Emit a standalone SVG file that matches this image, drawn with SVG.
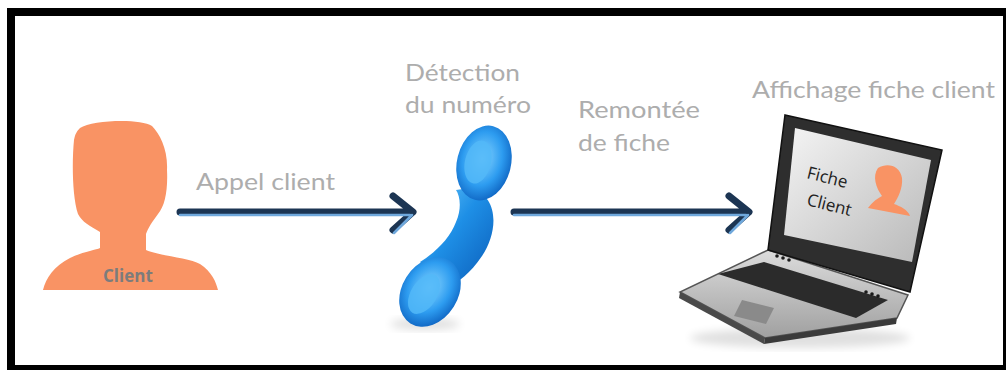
<svg xmlns="http://www.w3.org/2000/svg" width="1006" height="370" viewBox="0 0 1006 370">
  <style>
    .lbl { font-family: Lato, "Open Sans", "Liberation Sans", sans-serif; font-size: 23px; fill: #adadad; }
    .body { fill: #f99364; }
    .arrow-dark { fill: none; stroke: #1c3553; stroke-width: 7; stroke-linecap: round; stroke-linejoin: round; }
    .arrow-light { fill: none; stroke: #6fa8dc; stroke-width: 2.5; stroke-linecap: round; stroke-linejoin: round; }
    .screen-txt { font-family: "Open Sans", "Liberation Sans", sans-serif; font-size: 17px; fill: #222; }
    .dot { fill: #1a1a1a; }
  </style>
  <defs>
    <linearGradient id="phoneGrad" x1="0" y1="0" x2="1" y2="1">
      <stop offset="0" stop-color="#6cc8fb"/>
      <stop offset="0.45" stop-color="#1e8fe6"/>
      <stop offset="1" stop-color="#0b5cb8"/>
    </linearGradient>
    <radialGradient id="earGrad" cx="0.45" cy="0.45" r="0.6">
      <stop offset="0" stop-color="#8ad6ff"/>
      <stop offset="0.6" stop-color="#2d9cf0"/>
      <stop offset="1" stop-color="#0d62c0"/>
    </radialGradient>
    <linearGradient id="screenGrad" x1="0" y1="0" x2="1" y2="1">
      <stop offset="0" stop-color="#f4f4f4"/>
      <stop offset="1" stop-color="#b8b8b8"/>
    </linearGradient>
    <linearGradient id="deckGrad" x1="0" y1="0" x2="0" y2="1">
      <stop offset="0" stop-color="#dcdcdc"/>
      <stop offset="1" stop-color="#a0a0a0"/>
    </linearGradient>
    <filter id="soft" x="-20%" y="-20%" width="140%" height="140%">
      <feGaussianBlur stdDeviation="4"/>
    </filter>
  </defs>

  <!-- frame -->
  <rect x="0" y="0" width="1006" height="370" fill="#ffffff"/>
  <rect x="7" y="8" width="999" height="362" fill="#000000"/>
  <rect x="15" y="16" width="988" height="349" fill="#ffffff"/>

  <!-- client silhouette -->
  <g id="client">
    <path class="body" d="M80,128 C92,120 140,118 152,126 C160,134 168,150 167,170 C168,190 165,206 158,214 C152,222 148,228 146,234 L146,250 C160,256 190,258 200,264 C212,272 216,282 218,290 L43,290 C46,278 54,266 70,258 C82,252 96,250 100,248 L100,232 C90,226 82,222 78,214 C72,196 72,160 74,140 C75,134 77,131 80,128 Z"/>
    <text x="103" y="282" style="font-family: 'Open Sans', 'Liberation Sans', sans-serif; font-size: 17px; font-weight: bold; fill: #7c7c7c;">Client</text>
  </g>

  <!-- connectors -->
  <g id="connectors">
    <path class="arrow-dark" d="M180,212 H412 M393,196 L413,212 L393,230"/>
    <path class="arrow-light" d="M180,215 H410 M394,233 L412,215"/>
    <path class="arrow-dark" d="M514,212 H748 M729,196 L749,212 L729,230"/>
    <path class="arrow-light" d="M514,215 H746 M730,233 L748,215"/>
  </g>

  <!-- labels -->
  <g id="label-appel">
    <text class="lbl" x="196" y="190" textLength="139" lengthAdjust="spacingAndGlyphs">Appel client</text>
  </g>
  <g id="label-detection">
    <text class="lbl" x="405" y="81" textLength="115" lengthAdjust="spacingAndGlyphs">Détection</text>
    <text class="lbl" x="405" y="113" textLength="126" lengthAdjust="spacingAndGlyphs">du numéro</text>
  </g>
  <g id="label-remontee">
    <text class="lbl" x="578" y="118" textLength="122" lengthAdjust="spacingAndGlyphs">Remontée</text>
    <text class="lbl" x="578" y="151" textLength="92" lengthAdjust="spacingAndGlyphs">de fiche</text>
  </g>
  <g id="label-affichage">
    <text class="lbl" x="752" y="98" textLength="243" lengthAdjust="spacingAndGlyphs">Affichage fiche client</text>
  </g>

  <!-- telephone handset -->
  <g id="phone">
    <ellipse cx="425" cy="324" rx="35" ry="6" fill="#000" opacity="0.12" filter="url(#soft)"/>
    <path d="M470,188 C500,196 498,232 482,256 C470,274 458,282 450,286 L420,262 C436,252 450,238 456,222 C462,208 460,196 456,190 Z" fill="url(#phoneGrad)"/>
    <ellipse cx="484" cy="163" rx="27" ry="38" transform="rotate(14 484 163)" fill="url(#earGrad)"/>
    <ellipse cx="478" cy="162" rx="13" ry="22" transform="rotate(14 478 162)" fill="#52b8f8" opacity="0.85"/>
    <ellipse cx="430" cy="292" rx="28" ry="37" transform="rotate(32 430 292)" fill="url(#earGrad)"/>
    <ellipse cx="424" cy="294" rx="13" ry="22" transform="rotate(32 424 294)" fill="#52b8f8" opacity="0.85"/>
  </g>

  <!-- laptop -->
  <g id="laptop">
    <ellipse cx="800" cy="338" rx="110" ry="10" fill="#000" opacity="0.12" filter="url(#soft)"/>
    <!-- base -->
    <path d="M768,250 L908,295 L897,318 L765,338 L680,292 Z" fill="url(#deckGrad)" stroke="#555" stroke-width="1.5"/>
    <path d="M680,292 L765,338 L764,344 L679,298 Z" fill="#4a4a4a"/>
    <path d="M765,338 L897,318 L896,324 L764,344 Z" fill="#3a3a3a"/>
    <!-- keyboard -->
    <path d="M764,262 L888,300 L856,318 L718,274 Z" fill="#2b2b2b"/>
    <!-- touchpad -->
    <path d="M742,300 L774,308 L766,324 L734,316 Z" fill="#8a8a8a"/>
    <!-- screen lid -->
    <path d="M785,115 L942,150 L910,292 L768,250 Z" fill="#2e2e2e" stroke="#111" stroke-width="1.5"/>
    <path d="M795,128 L931,160 L912,262 L784,235 Z" fill="url(#screenGrad)"/>
    <circle class="dot" cx="777" cy="256" r="1.8"/>
    <circle class="dot" cx="783" cy="258" r="1.8"/>
    <circle class="dot" cx="789" cy="260" r="1.8"/>
    <circle class="dot" cx="866" cy="292" r="1.8"/>
    <circle class="dot" cx="872" cy="294" r="1.8"/>
    <circle class="dot" cx="878" cy="296" r="1.8"/>
    <!-- screen content -->
    <path d="M878,168 C888,162 900,166 902,178 C903,188 898,198 894,204 C900,206 908,210 910,216 L868,208 C872,202 878,198 882,196 C876,188 872,176 878,168 Z" fill="#f99364"/>
    <text class="screen-txt" x="0" y="0" transform="translate(806,178) rotate(14)">Fiche</text>
    <text class="screen-txt" x="0" y="0" transform="translate(806,205) rotate(14)">Client</text>
  </g>
</svg>
